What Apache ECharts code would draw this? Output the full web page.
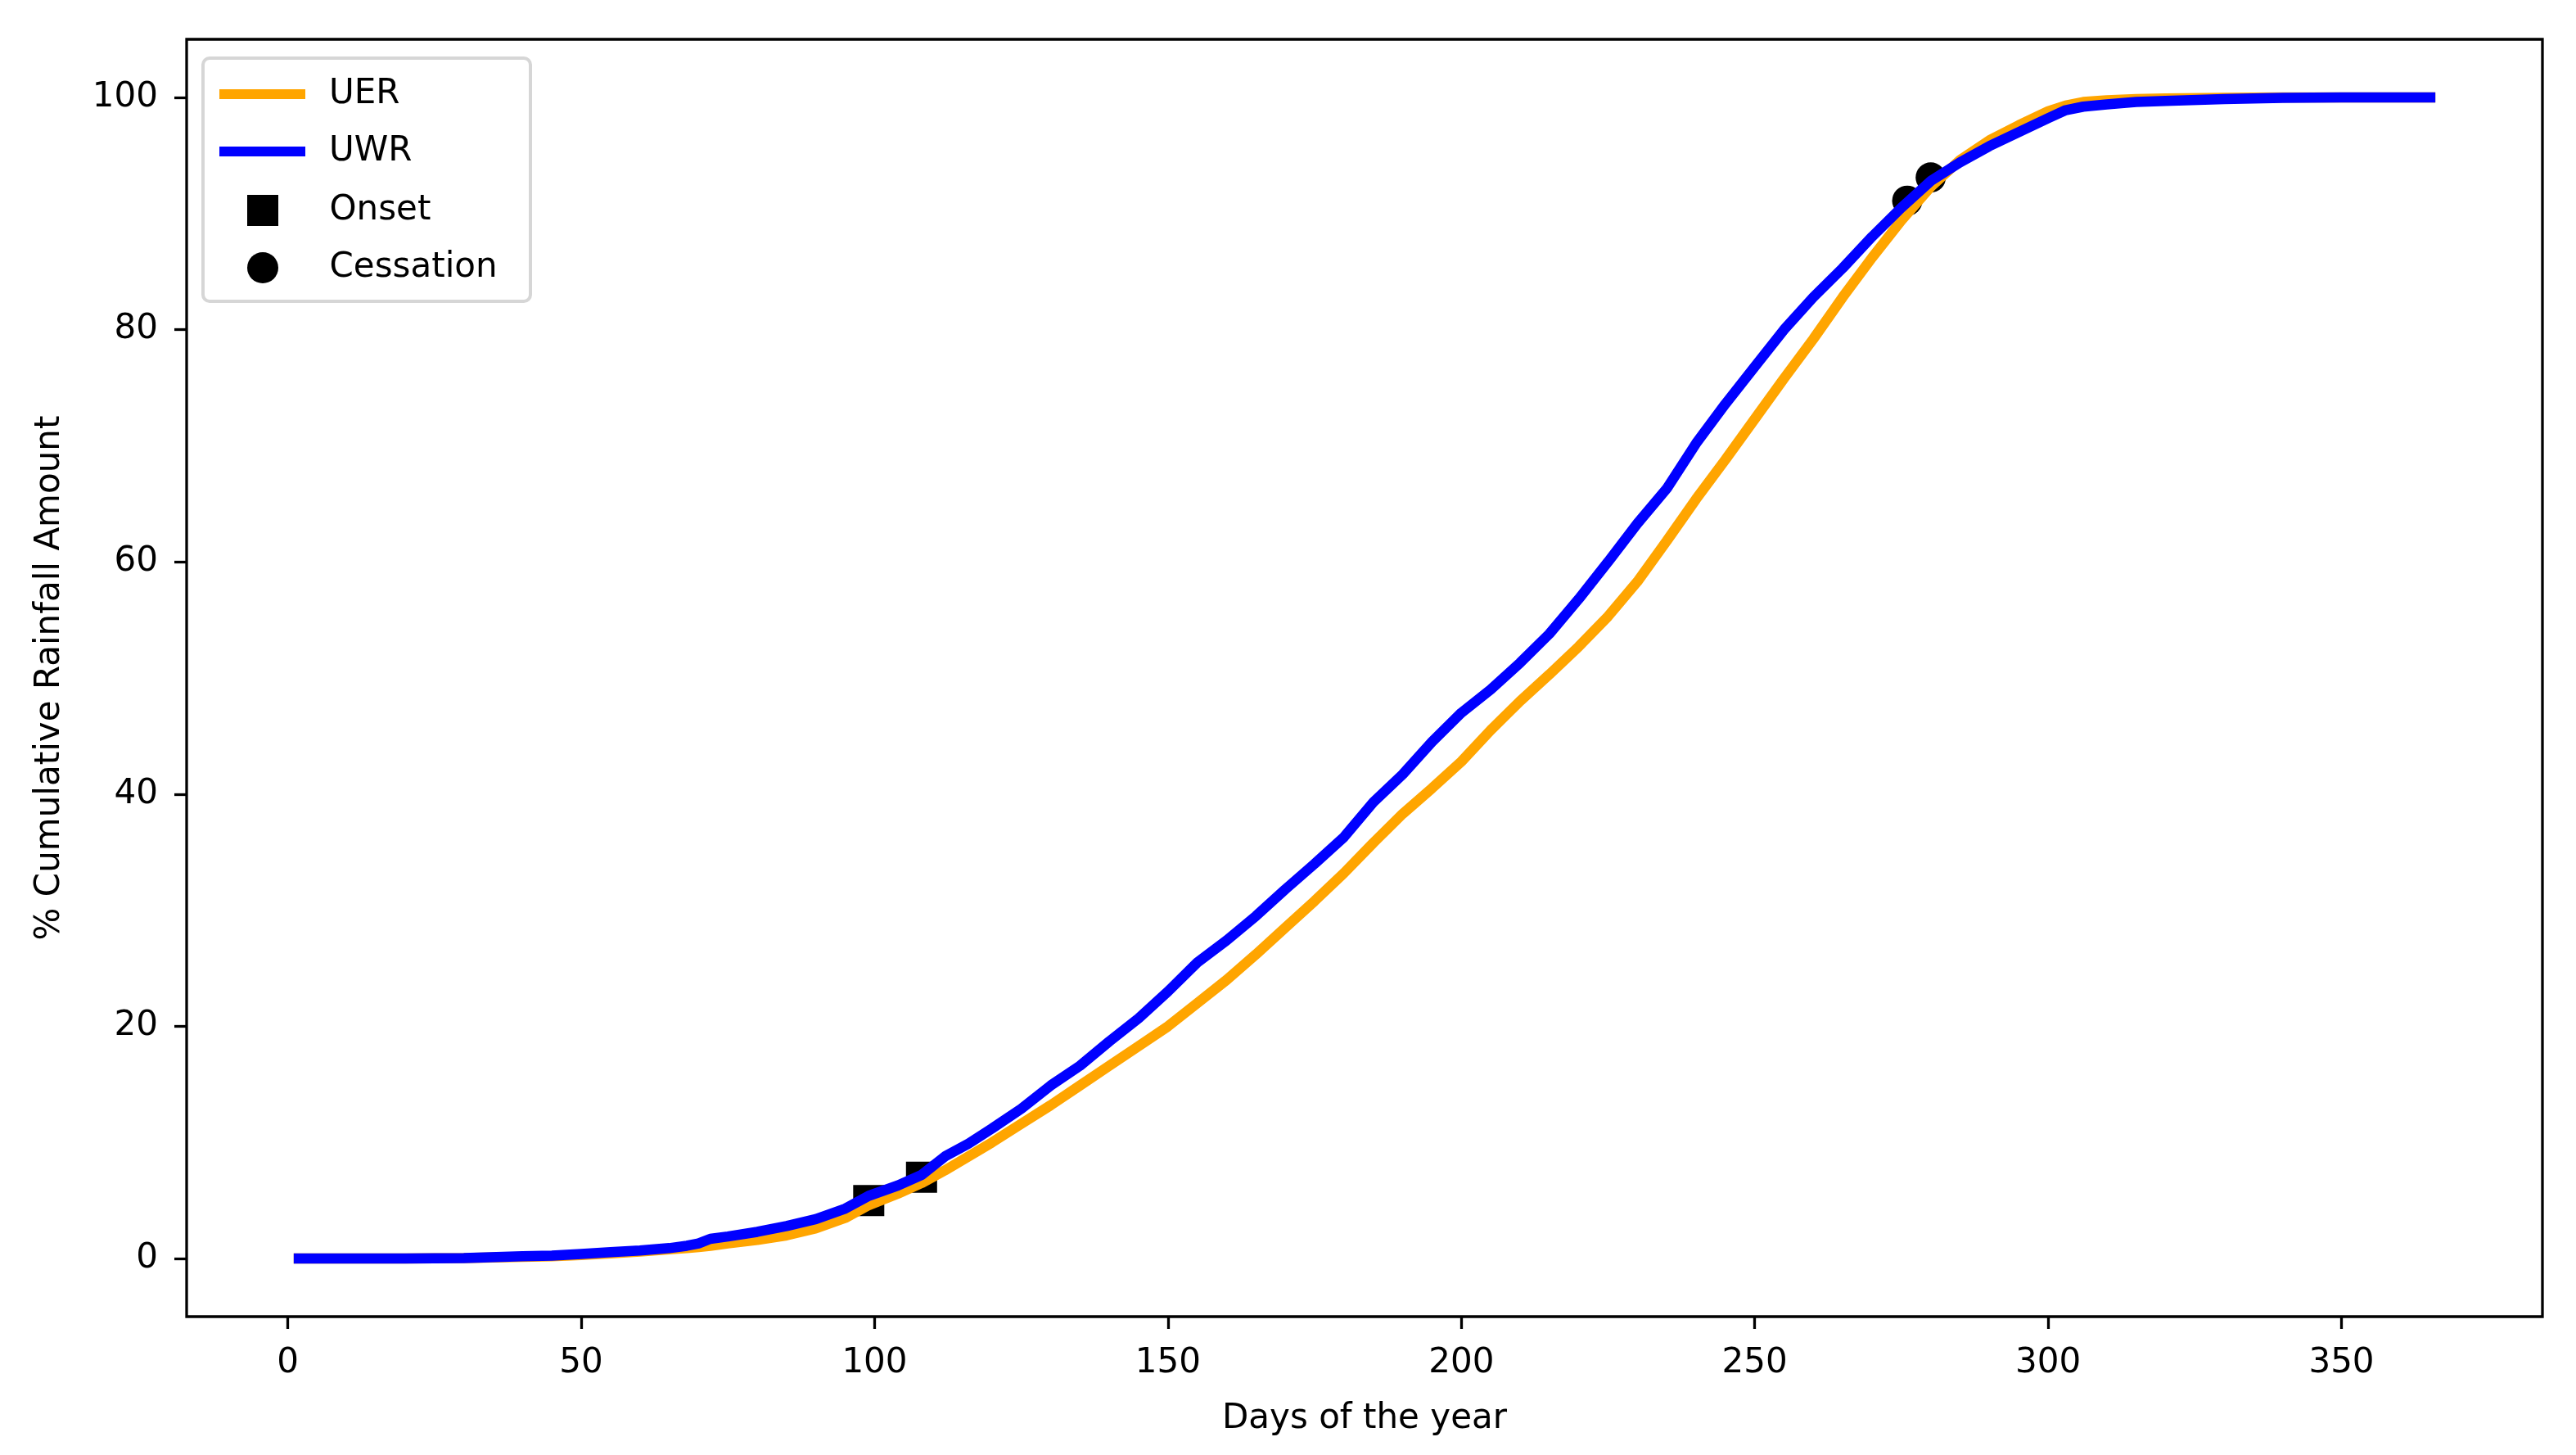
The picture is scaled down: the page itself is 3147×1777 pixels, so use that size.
<!DOCTYPE html>
<html>
<head>
<meta charset="utf-8">
<script src="https://cdn.jsdelivr.net/npm/echarts@6/dist/echarts.min.js"></script>
<style>
  html, body { margin: 0; padding: 0; background: #fff; }
  #chart { width: 3147px; height: 1777px; }
</style>
</head>
<body>
<div id="chart"></div>
<script>
// ---- data ----
const days = [1, 10, 20, 30, 40, 45, 50, 55, 60, 65, 68, 70, 72, 75, 80, 85, 90, 95, 99, 104, 108, 112, 116, 120, 125, 130, 135, 140, 145, 150, 155, 160, 165, 170, 175, 180, 185, 190, 195, 200, 205, 210, 215, 220, 225, 230, 235, 240, 245, 250, 255, 260, 265, 270, 275, 280, 285, 290, 295, 300, 303, 306, 310, 315, 320, 330, 340, 350, 366];
const uerValues = [0, 0, 0, 0.05, 0.15, 0.2, 0.3, 0.45, 0.6, 0.8, 0.9, 1.0, 1.1, 1.3, 1.6, 2.0, 2.6, 3.5, 4.6, 5.6, 6.5, 7.6, 8.8, 10.0, 11.6, 13.2, 14.9, 16.6, 18.3, 20.0, 22.0, 24.0, 26.2, 28.5, 30.8, 33.2, 35.8, 38.3, 40.5, 42.8, 45.5, 48.0, 50.3, 52.7, 55.3, 58.3, 61.8, 65.4, 68.8, 72.3, 75.8, 79.2, 82.8, 86.2, 89.4, 92.3, 94.6, 96.3, 97.6, 98.8, 99.3, 99.6, 99.75, 99.85, 99.9, 99.95, 100, 100, 100];
const uwrValues = [0, 0, 0, 0.05, 0.2, 0.25, 0.4, 0.55, 0.7, 0.9, 1.1, 1.3, 1.7, 1.9, 2.3, 2.8, 3.4, 4.3, 5.4, 6.3, 7.2, 8.8, 9.9, 11.2, 12.9, 14.9, 16.6, 18.7, 20.7, 23.0, 25.5, 27.4, 29.5, 31.8, 34.0, 36.3, 39.3, 41.7, 44.5, 47.0, 49.0, 51.3, 53.8, 56.8, 60.0, 63.3, 66.3, 70.2, 73.6, 76.8, 80.0, 82.8, 85.3, 88.0, 90.5, 92.8, 94.4, 95.8, 97.0, 98.2, 98.9, 99.2, 99.4, 99.6, 99.7, 99.85, 99.95, 100, 100];
const onsetDays = [99, 108];
const onsetValues = [5.0, 7.0];
const cessationDays = [276, 280];
const cessationValues = [91.1, 93.1];
const xTicks = [0, 50, 100, 150, 200, 250, 300, 350];
const yTicks = [0, 20, 40, 60, 80, 100];

const FONT = 'DejaVu Sans';
const pair = (xs, ys) => xs.map((x, i) => [x, ys[i]]);

const chart = echarts.init(document.getElementById('chart'), null, { renderer: 'canvas' });

const axisCommon = {
  type: 'value',
  axisLine: { show: false, onZero: false },
  splitLine: { show: false },
  axisTick: { show: true, inside: false, length: 15, lineStyle: { color: '#000', width: 3.3 } },
  axisLabel: { color: '#000', fontFamily: FONT, fontSize: 42 },
  nameTextStyle: { color: '#000', fontFamily: FONT, fontSize: 42 }
};

chart.setOption({
  animation: false,
  backgroundColor: '#fff',
  grid: {
    left: 228, top: 48, right: 41, bottom: 169,
    show: true, borderColor: '#000', borderWidth: 3.3, backgroundColor: 'transparent'
  },
  xAxis: Object.assign({}, axisCommon, {
    min: -17.25, max: 384.25,
    name: 'Days of the year', nameLocation: 'middle', nameGap: 104,
    axisTick: Object.assign({}, axisCommon.axisTick, { customValues: xTicks }),
    axisLabel: Object.assign({}, axisCommon.axisLabel, { customValues: xTicks, margin: 36 })
  }),
  yAxis: Object.assign({}, axisCommon, {
    min: -5, max: 105,
    name: '% Cumulative Rainfall Amount', nameLocation: 'middle', nameGap: 146,
    axisTick: Object.assign({}, axisCommon.axisTick, { customValues: yTicks }),
    axisLabel: Object.assign({}, axisCommon.axisLabel, { customValues: yTicks, margin: 35, padding: [12, 0, 0, 0] })
  }),
  graphic: [{
    type: 'rect', z: 3,
    shape: { x: 248, y: 71, width: 400, height: 297, r: 8 },
    style: { fill: 'rgba(255,255,255,0.8)', stroke: '#d6d6d6', lineWidth: 4 }
  }],
  legend: [
    {
      orient: 'vertical', left: 263, top: 85, z: 5,
      itemWidth: 105, itemHeight: 12, itemGap: 20,
      itemStyle: { borderWidth: 0 },
      textStyle: { color: '#000', fontFamily: FONT, fontSize: 42, lineHeight: 50, padding: [0, 0, 0, 24] },
      data: [{ name: 'UER', icon: 'rect' }, { name: 'UWR', icon: 'rect' }],
      selectedMode: false
    },
    {
      orient: 'vertical', left: 297, top: 227, z: 5,
      itemWidth: 105, itemHeight: 38, itemGap: 20,
      itemStyle: { borderWidth: 0, opacity: 1 },
      symbolKeepAspect: true,
      textStyle: { color: '#000', fontFamily: FONT, fontSize: 42, lineHeight: 50, padding: [0, 0, 0, 24] },
      data: [{ name: 'Onset', icon: 'path://M0,0L10,0L10,10L0,10Z' }, { name: 'Cessation', icon: 'circle' }],
      selectedMode: false
    }
  ],
  series: [
    {
      name: 'Onset', type: 'scatter', z: 1,
      symbol: 'rect', symbolSize: 38,
      itemStyle: { color: '#000', opacity: 1 },
      data: pair(onsetDays, onsetValues)
    },
    {
      name: 'Cessation', type: 'scatter', z: 1,
      symbol: 'circle', symbolSize: 37,
      itemStyle: { color: '#000', opacity: 1 },
      data: pair(cessationDays, cessationValues)
    },
    {
      name: 'UER', type: 'line', z: 2,
      showSymbol: false, symbol: 'none',
      color: '#FFA500',
      lineStyle: { color: '#FFA500', width: 12.5 },
      data: pair(days, uerValues)
    },
    {
      name: 'UWR', type: 'line', z: 3,
      showSymbol: false, symbol: 'none',
      color: '#0000FF',
      lineStyle: { color: '#0000FF', width: 12.5 },
      data: pair(days, uwrValues)
    }
  ]
});
</script>
</body>
</html>
